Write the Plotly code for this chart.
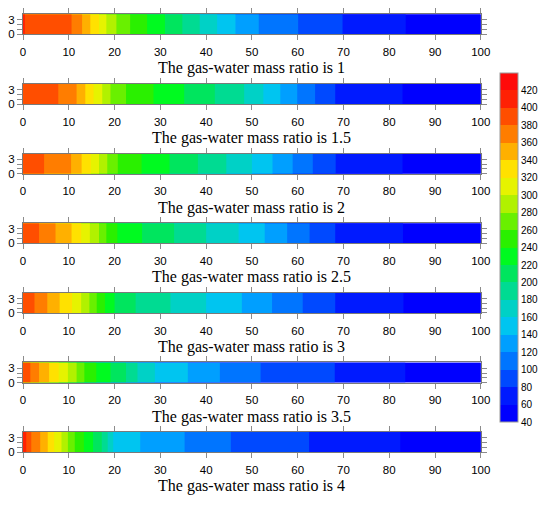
import plotly.graph_objects as go

# contour levels (degC) and where each strip crosses them along the pipe (m)
levels = [400, 380, 360, 340, 320, 300, 280, 260, 240, 220, 200, 180, 160, 140, 120, 100, 80, 60]

ratios = ["1", "1.5", "2", "2.5", "3", "3.5", "4"]
inlet_temp = [405, 392, 392, 392, 392, 392, 410]
outlet_temp = [45, 45, 45, 45, 45, 45, 45]

cross_1 = [0.4, 10.6, 12.9, 14.7, 16.6, 18.2, 20.4, 23.4, 27.1, 31.0, 34.8, 38.6, 42.4, 46.4, 51.5, 60.1, 69.8, 83.6]
cross_1_5 = [None, 7.7, 11.7, 13.6, 15.4, 17.3, 19.1, 22.5, 28.5, 35.2, 41.9, 48.3, 52.5, 56.2, 59.9, 63.8, 68.2, 82.9]
cross_2 = [None, 4.6, 10.5, 12.8, 14.8, 16.6, 18.4, 20.7, 25.9, 32.0, 38.2, 44.4, 50.0, 54.5, 58.9, 63.3, 68.3, 82.9]
cross_2_5 = [None, 3.5, 7.1, 10.6, 12.7, 14.6, 16.6, 18.2, 20.6, 26.0, 33.0, 40.0, 47.1, 52.8, 57.7, 62.6, 68.2, 83.0]
cross_3 = [None, 2.5, 5.3, 8.0, 10.7, 12.7, 14.5, 16.1, 17.9, 20.0, 24.6, 32.2, 40.0, 47.8, 54.4, 61.1, 68.2, 83.1]
cross_3_5 = [None, 1.6, 3.5, 5.7, 7.8, 9.8, 11.7, 13.4, 16.0, 19.1, 22.5, 25.0, 28.8, 36.0, 43.0, 51.9, 68.1, 83.5]
cross_4 = [0.7, 1.8, 3.75, 5.4, 6.8, 8.4, 9.8, 11.3, 13.3, 15.3, 17.2, 18.5, 19.7, 25.6, 35.3, 45.4, 62.5, 82.4]
crossings = [cross_1, cross_1_5, cross_2, cross_2_5, cross_3, cross_3_5, cross_4]

# band colours, 40-60 up to 420-440
band_colors = [
    "#0000ff", "#002dff", "#005aff", "#0082ff", "#00aaff",
    "#00cdeb", "#00d2be", "#00dc8c", "#00e65a", "#00fa1e",
    "#28f000", "#64f000", "#aaf000", "#e1f500", "#ffeb00",
    "#ffbe00", "#ff8c00", "#ff5f00", "#ff3200", "#ff0a0a",
]

# page is 550x505 but the html body has an 8px margin
PAD = 8
W, H = 550 - PAD, 505 - PAD
X0, X1 = 17.3 - PAD, 489.0 - PAD
STRIP_TOP, STRIP_H, STEP = 14.3 - PAD, 20.4, 70.5


def profile(cross, t_in, t_out):
    xs, ts = [0.0], [t_in]
    for lev, xc in zip(levels, cross):
        if xc is None:
            continue
        xs.append(xc)
        ts.append(lev)
    xs.append(100.0)
    ts.append(t_out)
    return xs, ts


# plotly samples contour fills at level mid-points -> stops at j/21
n = len(band_colors) + 1
cols = [band_colors[0]] + band_colors + [band_colors[-1]]
colorscale = [[j / n, c] for j, c in enumerate(cols)]

fig = go.Figure()
tick_font = dict(family="Liberation Sans, Arial", size=11.5, color="black")

for k in range(7):
    xs, ts = profile(crossings[k], inlet_temp[k], outlet_temp[k])
    sfx = "" if k == 0 else str(k + 1)
    fig.add_trace(go.Contour(
        x=xs, y=[0, 4.2], z=[ts, ts],
        xaxis="x" + sfx, yaxis="y" + sfx,
        colorscale=colorscale, zmin=40, zmax=440,
        contours=dict(start=40, end=440, size=20, coloring="fill", showlines=False),
        line=dict(width=0, smoothing=0),
        showscale=(k == 0),
        colorbar=dict(
            x=(509 - PAD) / W, xanchor="left", xpad=0,
            y=1 - (250.5 - PAD) / H, yanchor="middle", ypad=0,
            len=353 / H, thickness=18,
            outlinewidth=1, outlinecolor="#9a9a9a",
            tickvals=list(range(40, 421, 20)), ticks="", ticklen=1,
            tickfont=dict(family="Liberation Sans, Arial", size=10, color="black"),
        ),
        hoverinfo="skip",
    ))

    top = STRIP_TOP + STEP * k
    bot = top + STRIP_H
    fig.layout["xaxis" + sfx] = dict(
        domain=[X0 / W, X1 / W], anchor="y" + sfx, range=[0, 100],
        tickvals=list(range(0, 101, 10)), ticks="outside", ticklen=5,
        tickcolor="#8c8c8c", showline=True, linecolor="#7a7a7a", mirror="ticks",
        showgrid=False, zeroline=False, tickfont=tick_font, ticklabelstandoff=2,
    )
    fig.layout["yaxis" + sfx] = dict(
        domain=[1 - bot / H, 1 - top / H], anchor="x" + sfx, range=[0, 4.2],
        tickvals=[0, 1, 2, 3], ticktext=["0", "", "", "3"], ticks="outside", ticklen=5,
        tickcolor="#8c8c8c", showline=True, linecolor="#7a7a7a", mirror="ticks",
        showgrid=False, zeroline=False, tickfont=tick_font,
    )
    fig.add_annotation(
        text="The gas-water mass ratio is " + ratios[k],
        xref="paper", yref="paper", x=(X0 + X1) / 2 / W, y=1 - (bot + 34.5) / H,
        xanchor="center", yanchor="middle", showarrow=False,
        font=dict(family="Liberation Serif, Times New Roman", size=16, color="black"),
    )

fig.update_layout(
    width=W, height=H, margin=dict(l=0, r=0, t=0, b=0),
    paper_bgcolor="white", plot_bgcolor="white", showlegend=False,
)

fig.write_html("out.html")
